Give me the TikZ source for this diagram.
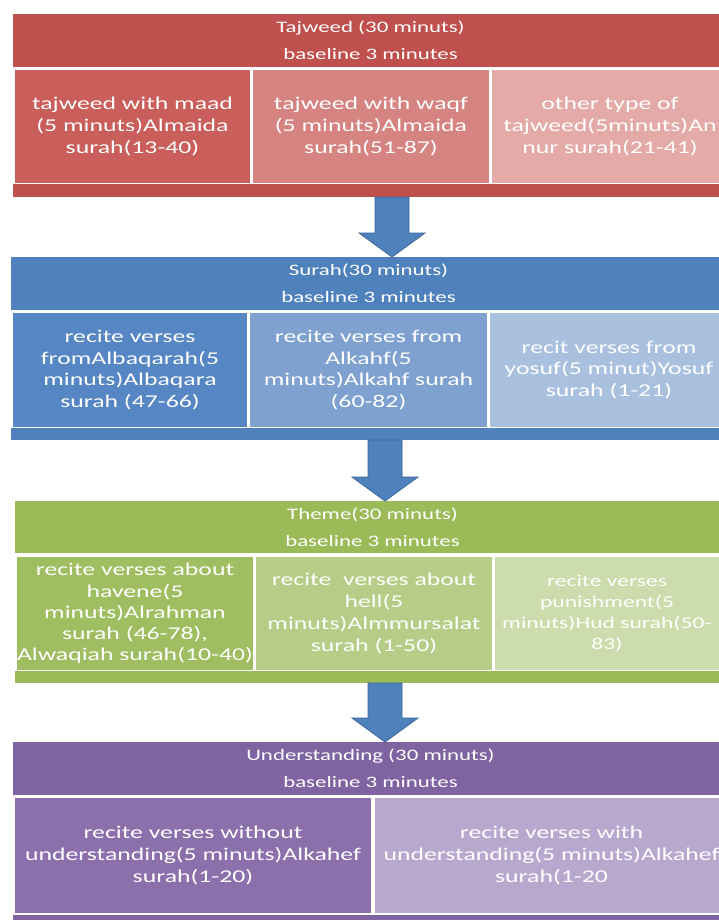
\documentclass[tikz,border=0pt]{standalone}
\usepackage{fontspec}
\setmainfont{Carlito}[FakeStretch=1.43]
\usetikzlibrary{calc}
\definecolor{redH}{HTML}{C0504D}
\definecolor{redA}{HTML}{C95E5B}
\definecolor{redB}{HTML}{D58482}
\definecolor{redC}{HTML}{E3AAA8}
\definecolor{bluH}{HTML}{4F81BD}
\definecolor{bluA}{HTML}{5686C3}
\definecolor{bluB}{HTML}{7FA1CF}
\definecolor{bluC}{HTML}{A9C0DF}
\definecolor{grnH}{HTML}{9BBB59}
\definecolor{grnA}{HTML}{9FBE61}
\definecolor{grnB}{HTML}{B6CD88}
\definecolor{grnC}{HTML}{CCDCAC}
\definecolor{purH}{HTML}{8064A2}
\definecolor{purA}{HTML}{8B70AC}
\definecolor{purB}{HTML}{B8A8CE}
\definecolor{arrowblue}{HTML}{4F81BD}
\definecolor{arrowedge}{HTML}{3B6699}
\tikzset{
  hdr/.style={anchor=north west, inner sep=0pt, outer sep=0pt, minimum width=715pt,
    minimum height=53pt, text=white, align=center, font=\fontsize{16}{27}\selectfont},
  sub/.style={anchor=north west, inner sep=0pt, outer sep=0pt, minimum height=113pt,
    text=white, align=center, font=\fontsize{18}{21.8}\selectfont},
  stripbar/.style={anchor=north west, inner sep=0pt, outer sep=0pt, minimum width=715pt,
    minimum height=13pt},
  bigarrow/.style={fill=arrowblue, draw=arrowedge, line width=0.8pt, line join=miter}
}
\newcommand\flowarrow[3]{%
  \path[bigarrow] let \p1=(#2.south), \p2=(#3.north) in
    ({#1pt-17pt},\y1) -- ({#1pt+17pt},\y1) -- ({#1pt+17pt},{\y2+24pt})
    -- ({#1pt+33pt},{\y2+24pt}) -- ({#1pt},\y2) -- ({#1pt-33pt},{\y2+24pt})
    -- ({#1pt-17pt},{\y2+24pt}) -- cycle;}
\begin{document}
\begin{tikzpicture}[x=1pt,y=-1pt]
\clip (0,0) rectangle (719,920);
\fill[white] (0,0) rectangle (719,920);

% Tajweed
\node[hdr, fill=redH] (h1) at (13,14) {Tajweed (30 minuts)\\baseline 3 minutes};
\node[sub, fill=redA, minimum width=235pt] (r1) at (15,70) {tajweed with maad\\(5 minuts)Almaida\\surah(13-40)};
\node[sub, fill=redB, minimum width=236pt] (r2) at (253,70) {tajweed with waqf\\(5 minuts)Almaida\\surah(51-87)};
\node[sub, fill=redC, minimum width=236pt] (r3) at (492,70) {other type of\\tajweed(5minuts)An\\nur surah(21-41)};
\node[stripbar, fill=redH] (s1) at (13,184) {};

% Surah
\node[hdr, fill=bluH] (h2) at (11,257) {Surah(30 minuts)\\baseline 3 minutes};
\node[sub, fill=bluA, minimum width=234pt, minimum height=114pt] (b1) at (13,313) {recite verses\\fromAlbaqarah(5\\minuts)Albaqara\\surah (47-66)};
\node[sub, fill=bluB, minimum width=237pt, minimum height=114pt] (b2) at (250,313) {recite verses from\\Alkahf(5\\minuts)Alkahf surah\\(60-82)};
\node[sub, fill=bluC, minimum width=238pt, minimum height=114pt] (b3) at (490,313) {recit verses from\\yosuf(5 minut)Yosuf\\surah (1-21)};
\node[stripbar, fill=bluH, minimum height=12pt] (s2) at (11,428) {};

% Theme
\node[hdr, fill=grnH, minimum height=52pt] (h3) at (15,501) {Theme(30 minuts)\\baseline 3 minutes};
\node[sub, fill=grnA, minimum width=236pt, font=\fontsize{18}{21.2}\selectfont] (g1) at (17,557) {recite verses about\\havene(5\\minuts)Alrahman\\surah (46-78),\\Alwaqiah surah(10-40)};
\node[sub, fill=grnB, minimum width=236pt] (g2) at (256,557) {recite\ \ verses about\\hell(5\\minuts)Almmursalat\\surah (1-50)};
\node[sub, fill=grnC, minimum width=224pt, font=\fontsize{16.5}{21.2}\selectfont] (g3) at (495,557) {recite verses\\punishment(5\\minuts)Hud surah(50-\\83)};
\fill[grnC] (g3.north east) rectangle ([xshift=12pt]g3.south east);
\node[stripbar, fill=grnH, minimum height=12pt] (s3) at (15,671) {};

% Understanding
\node[hdr, fill=purH] (h4) at (13,742) {Understanding (30 minuts)\\baseline 3 minutes};
\node[sub, fill=purA, minimum width=356pt, minimum height=115pt] (p1) at (15,798) {recite verses without\\understanding(5 minuts)Alkahef\\surah(1-20)};
\node[sub, fill=purB, minimum width=353pt, minimum height=115pt] (p2) at (375,798) {recite verses with\\understanding(5 minuts)Alkahef\\surah(1-20};
\node[stripbar, fill=purH, minimum height=10pt] (s4) at (13,915) {};

% arrows
\flowarrow{392}{s1}{h2}
\flowarrow{385}{s2}{h3}
\flowarrow{385}{s3}{h4}
\end{tikzpicture}
\end{document}
